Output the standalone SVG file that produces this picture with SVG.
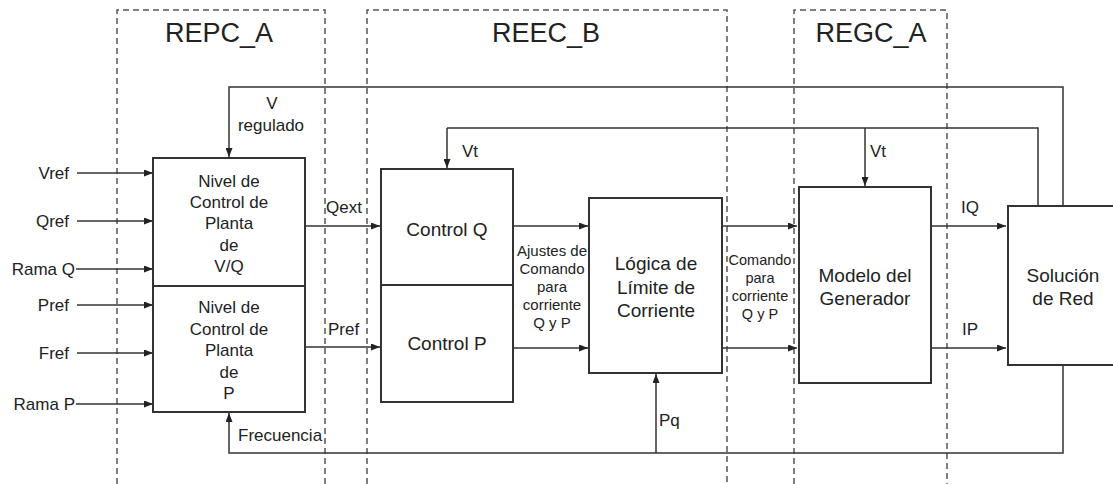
<svg xmlns="http://www.w3.org/2000/svg" width="1113" height="484" viewBox="0 0 1113 484">
<style>
text{font-family:"Liberation Sans",Arial,sans-serif;fill:#222;text-anchor:middle}
.t{font-size:27px}
.lb{font-size:17px}
.bx{font-size:19px}
.rp{font-size:17px}
.sm{font-size:15px}
.xs{font-size:14.5px}
.end{text-anchor:end}
.st{text-anchor:start}
.zone{fill:none;stroke:#555;stroke-width:1.5;stroke-dasharray:6 4}
.box{fill:#fff;stroke:#333;stroke-width:2}
.ln{fill:none;stroke:#333;stroke-width:1.5}
.ar{fill:none;stroke:#333;stroke-width:1.5;marker-end:url(#ah)}
</style>
<defs>
<marker id="ah" markerUnits="userSpaceOnUse" markerWidth="9" markerHeight="7" refX="9" refY="3.5" orient="auto">
<path d="M0,0 L9,3.5 L0,7 z" fill="#222"/>
</marker>
</defs>
<rect width="1113" height="484" fill="#fff"/>
<g id="zones">
<path class="zone" d="M117,484 V10 H325 V484"/>
<path class="zone" d="M367,484 V10 H727 V484"/>
<path class="zone" d="M794,484 V10 H947 V484"/>
<text class="t" x="219" y="42">REPC_A</text>
<text class="t" x="546" y="42">REEC_B</text>
<text class="t" x="871" y="42">REGC_A</text>
</g>
<g id="connectors">
<line class="ar" x1="77" y1="173" x2="153" y2="173"/>
<line class="ar" x1="77" y1="221" x2="153" y2="221"/>
<line class="ar" x1="76" y1="269" x2="153" y2="269"/>
<line class="ar" x1="77" y1="305" x2="153" y2="305"/>
<line class="ar" x1="77" y1="353" x2="153" y2="353"/>
<line class="ar" x1="76" y1="404" x2="153" y2="404"/>
<text class="lb end" x="69" y="179">Vref</text>
<text class="lb end" x="69" y="227">Qref</text>
<text class="lb end" x="75" y="275">Rama Q</text>
<text class="lb end" x="69" y="311">Pref</text>
<text class="lb end" x="69" y="359">Fref</text>
<text class="lb end" x="75" y="410">Rama P</text>
<polyline class="ar" points="1063,206 1063,87 229,87 229,157"/>
<text class="lb" x="272" y="109">V</text>
<text class="lb" x="271" y="131">regulado</text>
<polyline class="ar" points="1063,365 1063,453 229,453 229,413"/>
<text class="lb st" x="238" y="441">Frecuencia</text>
<line class="ar" x1="656" y1="453" x2="656" y2="374"/>
<text class="lb st" x="659" y="426">Pq</text>
<polyline class="ln" points="1038,206 1038,128 447,128"/>
<line class="ar" x1="447" y1="128" x2="447" y2="168"/>
<line class="ar" x1="865" y1="128" x2="865" y2="186"/>
<text class="lb st" x="462" y="157">Vt</text>
<text class="lb st" x="870" y="157">Vt</text>
<line class="ar" x1="305" y1="226" x2="380" y2="226"/>
<text class="lb st" x="326" y="213">Qext</text>
<line class="ar" x1="305" y1="347" x2="380" y2="347"/>
<text class="lb st" x="328" y="335">Pref</text>
<line class="ar" x1="513" y1="226" x2="588" y2="226"/>
<line class="ar" x1="513" y1="348" x2="588" y2="348"/>
<text class="sm" x="552" y="256">Ajustes de</text>
<text class="sm" x="552" y="274">Comando</text>
<text class="sm" x="552" y="292">para</text>
<text class="sm" x="552" y="310">corriente</text>
<text class="sm" x="552" y="328">Q y P</text>
<line class="ar" x1="722" y1="226" x2="797" y2="226"/>
<line class="ar" x1="722" y1="348" x2="797" y2="348"/>
<text class="xs" x="760" y="265">Comando</text>
<text class="xs" x="760" y="283">para</text>
<text class="xs" x="760" y="301">corriente</text>
<text class="xs" x="760" y="319">Q y P</text>
<line class="ar" x1="931" y1="226" x2="1006" y2="226"/>
<line class="ar" x1="931" y1="348" x2="1006" y2="348"/>
<text class="lb" x="970" y="213">IQ</text>
<text class="lb" x="970" y="335">IP</text>
</g>
<g id="repc-vq">
<rect class="box" x="153" y="158" width="152" height="128"/>
<text class="rp" x="229" y="187">Nivel de</text>
<text class="rp" x="229" y="208">Control de</text>
<text class="rp" x="229" y="229">Planta</text>
<text class="rp" x="229" y="251">de</text>
<text class="rp" x="229" y="272">V/Q</text>
</g>
<g id="repc-p">
<rect class="box" x="153" y="286" width="152" height="126"/>
<text class="rp" x="229" y="313">Nivel de</text>
<text class="rp" x="229" y="335">Control de</text>
<text class="rp" x="229" y="356">Planta</text>
<text class="rp" x="229" y="378">de</text>
<text class="rp" x="229" y="399">P</text>
</g>
<g id="control-q">
<rect class="box" x="381" y="169" width="132" height="116"/>
<text class="bx" x="447" y="236">Control Q</text>
</g>
<g id="control-p">
<rect class="box" x="381" y="285" width="132" height="117"/>
<text class="bx" x="447" y="350">Control P</text>
</g>
<g id="logica">
<rect class="box" x="589" y="198" width="133" height="175"/>
<text class="bx" x="656" y="270">Lógica de</text>
<text class="bx" x="656" y="294">Límite de</text>
<text class="bx" x="656" y="317">Corriente</text>
</g>
<g id="modelo">
<rect class="box" x="799" y="187" width="132" height="196"/>
<text class="bx" x="865" y="282">Modelo del</text>
<text class="bx" x="865" y="305">Generador</text>
</g>
<g id="solucion">
<rect class="box" x="1008" y="206" width="120" height="159"/>
<text class="bx" x="1063" y="282">Solución</text>
<text class="bx" x="1063" y="305">de Red</text>
</g>
</svg>
